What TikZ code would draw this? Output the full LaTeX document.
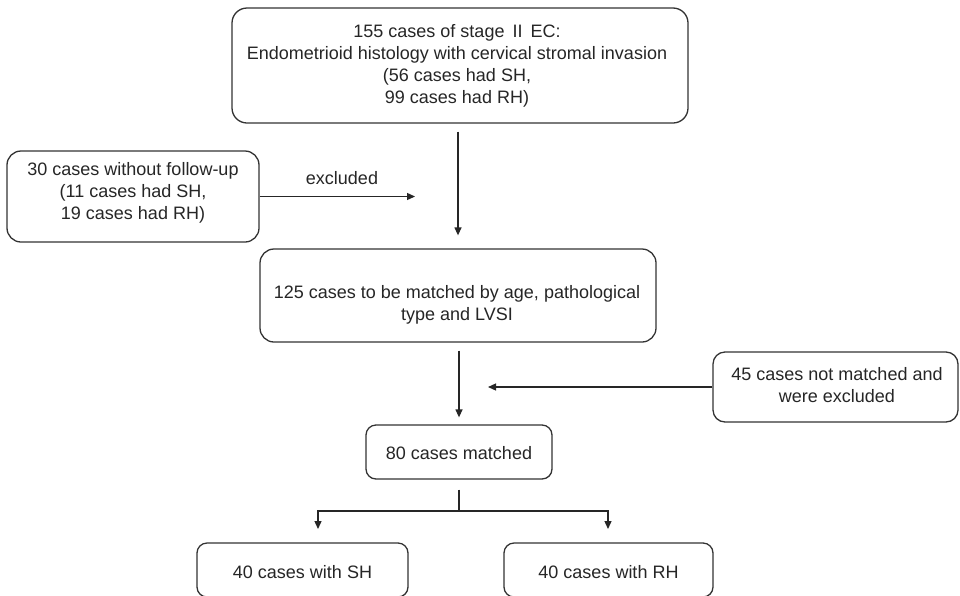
\documentclass[tikz,border=0pt]{standalone}
\usepackage{fontspec}
\setmainfont{Liberation Sans}
\usetikzlibrary{arrows.meta}
\begin{document}
\begin{tikzpicture}[x=1pt,y=-1pt,
  box/.style={draw=black!80, line width=1.3pt, rounded corners=#1, inner sep=0pt},
  box/.default=10pt,
  txt/.style={align=center, font=\fontsize{18}{22}\selectfont, text=black!85, inner sep=0pt},
  arr/.style={draw=black!85, line width=1.3pt, -{Triangle[length=8pt,width=7pt]}},
  ln/.style={draw=black!85, line width=1.3pt}]
\useasboundingbox (0,0) rectangle (960,595);
\fill[white] (0,0) rectangle (960,595);

% boxes
\node[box=15pt, minimum width=456pt, minimum height=115pt] (top) at (460,65.5) {};
\node[box=14pt, minimum width=252pt, minimum height=91pt] (left) at (133,196.5) {};
\node[box=14pt, minimum width=396pt, minimum height=93pt] (mid) at (458,295.5) {};
\node[box=12pt, minimum width=245pt, minimum height=70pt] (right) at (835.5,387) {};
\node[box=10pt, minimum width=186pt, minimum height=54pt] (m80) at (459,452) {};
\node[box=10pt, minimum width=211pt, minimum height=54pt] (sh) at (302.5,570) {};
\node[box=10pt, minimum width=209pt, minimum height=54pt] (rh) at (608.5,570) {};

% texts
\node[txt] (toptxt) at (457,66) {155 cases of stage\hspace{3pt} II\hspace{3pt} EC:\\Endometrioid histology with cervical stromal invasion\\(56 cases had SH,\\ 99 cases had RH)};
\node[txt] (lefttxt) at (133,192.5) {30 cases without follow-up\\(11 cases had SH,\\ 19 cases had RH)};
\node[txt] (midtxt) at (457,304.5) {125 cases to be matched by age, pathological\\type and LVSI};
\node[txt] (righttxt) at (837,385) {45 cases not matched and\\were excluded};
\node[txt] (m80txt) at (459,453) {80 cases matched};
\node[txt] (shtxt) at (302.5,572) {40 cases with SH};
\node[txt] (rhtxt) at (608.5,572) {40 cases with RH};
\node[txt] (exlab) at (342,178) {excluded};

% connector coordinates
\coordinate (exend) at (415,196.5);
\coordinate (inend) at (488,387);
\coordinate (split) at (459,511);
\coordinate (bl) at (318,529);
\coordinate (br) at (608,529);

% connectors
\draw[arr, shorten <=8pt, shorten >=13pt] (top.south -| mid.north) -- (mid.north);
\draw[arr] (left.east) -- (exend);
\draw[arr, shorten <=8pt, shorten >=7pt] (mid.south -| m80.north) -- (m80.north);
\draw[arr] (right.west) -- (inend);
\draw[ln, shorten <=10pt] (m80.south) -- (split);
\draw[arr] (split) -| (bl);
\draw[arr] (split) -| (br);
\end{tikzpicture}
\end{document}
